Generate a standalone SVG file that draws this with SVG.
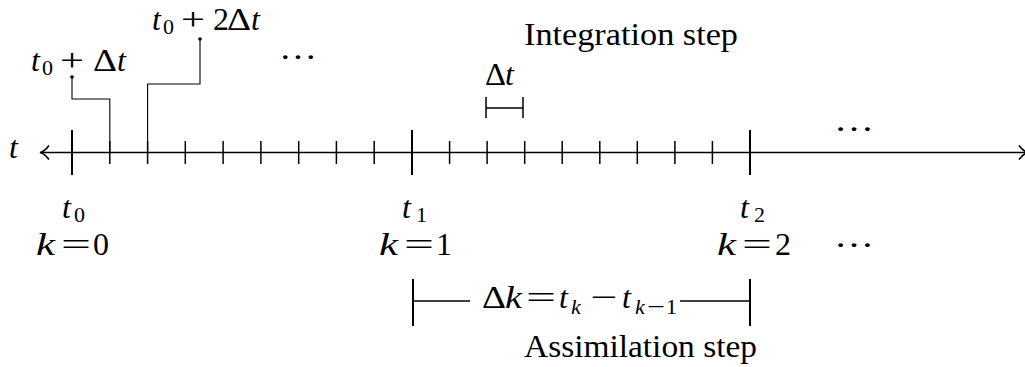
<svg xmlns="http://www.w3.org/2000/svg" width="1025" height="367" viewBox="0 0 1025 367" font-family="'Liberation Serif', 'Times New Roman', Times, 'DejaVu Serif', serif">
<style>
text{fill:#000;font-size:32px}
.i{font-style:italic}
.s{font-size:22px}
.ax{stroke:#000;stroke-width:1.6;fill:none}
.maj{stroke:#000;stroke-width:2;fill:none}
.min{stroke:#000;stroke-width:1.5;fill:none}
.cl{stroke:#000;stroke-width:1.1;fill:none}
</style>
<g id="axis">
<line class="ax" x1="41" y1="152.5" x2="1025" y2="152.5"/>
<path class="ax" d="M49,145.5 C46,149.5 43,151.8 40,152.5 C43,153.2 46,155.5 49,159.5"/>
<path class="ax" d="M1019,145.5 C1022,149.5 1025,151.8 1028,152.5 C1025,153.2 1022,155.5 1019,159.5"/>
<text x="9" y="158" class="i">t</text>
</g>
<g id="major-ticks">
<line class="maj" x1="72" y1="130" x2="72" y2="175"/>
<line class="maj" x1="412" y1="130" x2="412" y2="175"/>
<line class="maj" x1="750" y1="130" x2="750" y2="175"/>
</g>
<g id="minor-ticks">
<line class="min" x1="109.8" y1="141" x2="109.8" y2="164"/>
<line class="min" x1="147.6" y1="141" x2="147.6" y2="164"/>
<line class="min" x1="185.3" y1="141" x2="185.3" y2="164"/>
<line class="min" x1="223.1" y1="141" x2="223.1" y2="164"/>
<line class="min" x1="260.9" y1="141" x2="260.9" y2="164"/>
<line class="min" x1="298.7" y1="141" x2="298.7" y2="164"/>
<line class="min" x1="336.4" y1="141" x2="336.4" y2="164"/>
<line class="min" x1="374.2" y1="141" x2="374.2" y2="164"/>
<line class="min" x1="449.6" y1="141" x2="449.6" y2="164"/>
<line class="min" x1="487.1" y1="141" x2="487.1" y2="164"/>
<line class="min" x1="524.7" y1="141" x2="524.7" y2="164"/>
<line class="min" x1="562.2" y1="141" x2="562.2" y2="164"/>
<line class="min" x1="599.8" y1="141" x2="599.8" y2="164"/>
<line class="min" x1="637.3" y1="141" x2="637.3" y2="164"/>
<line class="min" x1="674.9" y1="141" x2="674.9" y2="164"/>
<line class="min" x1="712.4" y1="141" x2="712.4" y2="164"/>
</g>
<g id="connectors">
<polyline class="cl" points="72,77 72,99 109.8,99 109.8,152"/>
<circle cx="72" cy="77" r="1.8"/>
<polyline class="cl" points="200,39 200,84 147.6,84 147.6,152"/>
<circle cx="200" cy="39" r="1.8"/>
</g>
<g id="label-t0-dt">
<text x="31" y="71" class="i">t</text>
<text x="42" y="75" class="s">0</text>
<text x="60" y="71" textLength="24" lengthAdjust="spacingAndGlyphs">+</text>
<text x="93" y="71" textLength="24" lengthAdjust="spacingAndGlyphs">Δ</text>
<text x="117" y="71" class="i">t</text>
</g>
<g id="label-t0-2dt">
<text x="152" y="30" class="i">t</text>
<text x="163" y="34" class="s">0</text>
<text x="181" y="30" textLength="24" lengthAdjust="spacingAndGlyphs">+</text>
<text x="213" y="30">2</text>
<text x="227" y="30" textLength="24" lengthAdjust="spacingAndGlyphs">Δ</text>
<text x="251" y="30" class="i">t</text>
</g>
<g id="dots-top-left"><text x="279" y="59" textLength="38" lengthAdjust="spacingAndGlyphs">…</text></g>
<g id="integration">
<text x="524" y="45" font-size="31" textLength="214" lengthAdjust="spacingAndGlyphs">Integration step</text>
<text x="485" y="85" textLength="21" lengthAdjust="spacingAndGlyphs">Δ</text>
<text x="505" y="85" class="i">t</text>
<path class="min" d="M486,97 V118 M486,108 H523 M523,97 V118"/>
</g>
<g id="dots-top-right"><text x="834" y="131" textLength="40" lengthAdjust="spacingAndGlyphs">…</text></g>
<g id="label-k0">
<text x="62" y="218" class="i">t</text>
<text x="74" y="222" class="s">0</text>
<text x="36" y="255" class="i" textLength="19" lengthAdjust="spacingAndGlyphs">k</text>
<text x="61" y="255" textLength="30" lengthAdjust="spacingAndGlyphs">=</text>
<text x="93" y="255">0</text>
</g>
<g id="label-k1">
<text x="402" y="218" class="i">t</text>
<text x="416" y="222" class="s">1</text>
<text x="379" y="255" class="i" textLength="19" lengthAdjust="spacingAndGlyphs">k</text>
<text x="404" y="255" textLength="30" lengthAdjust="spacingAndGlyphs">=</text>
<text x="436" y="255">1</text>
</g>
<g id="label-k2">
<text x="740" y="218" class="i">t</text>
<text x="754" y="222" class="s">2</text>
<text x="717" y="255" class="i" textLength="19" lengthAdjust="spacingAndGlyphs">k</text>
<text x="742" y="255" textLength="30" lengthAdjust="spacingAndGlyphs">=</text>
<text x="775" y="255">2</text>
</g>
<g id="dots-bottom"><text x="834" y="247" textLength="40" lengthAdjust="spacingAndGlyphs">…</text></g>
<g id="assimilation">
<path class="maj" d="M413,279 V326 M750,279 V326"/>
<path class="min" d="M413,301 H470 M680,301 H750"/>
<text x="482" y="308" textLength="24" lengthAdjust="spacingAndGlyphs">Δ</text>
<text x="505" y="308" class="i" textLength="17" lengthAdjust="spacingAndGlyphs">k</text>
<text x="526" y="308" textLength="30" lengthAdjust="spacingAndGlyphs">=</text>
<text x="559" y="308" class="i">t</text>
<text x="571" y="314" class="s i">k</text>
<text x="590" y="308" textLength="27" lengthAdjust="spacingAndGlyphs">−</text>
<text x="622" y="308" class="i">t</text>
<text x="635" y="314" class="s i">k</text>
<text x="647" y="314" class="s" textLength="18" lengthAdjust="spacingAndGlyphs">−</text>
<text x="666" y="314" class="s">1</text>
<text x="524" y="357" font-size="31" textLength="233" lengthAdjust="spacingAndGlyphs">Assimilation step</text>
</g>
</svg>
